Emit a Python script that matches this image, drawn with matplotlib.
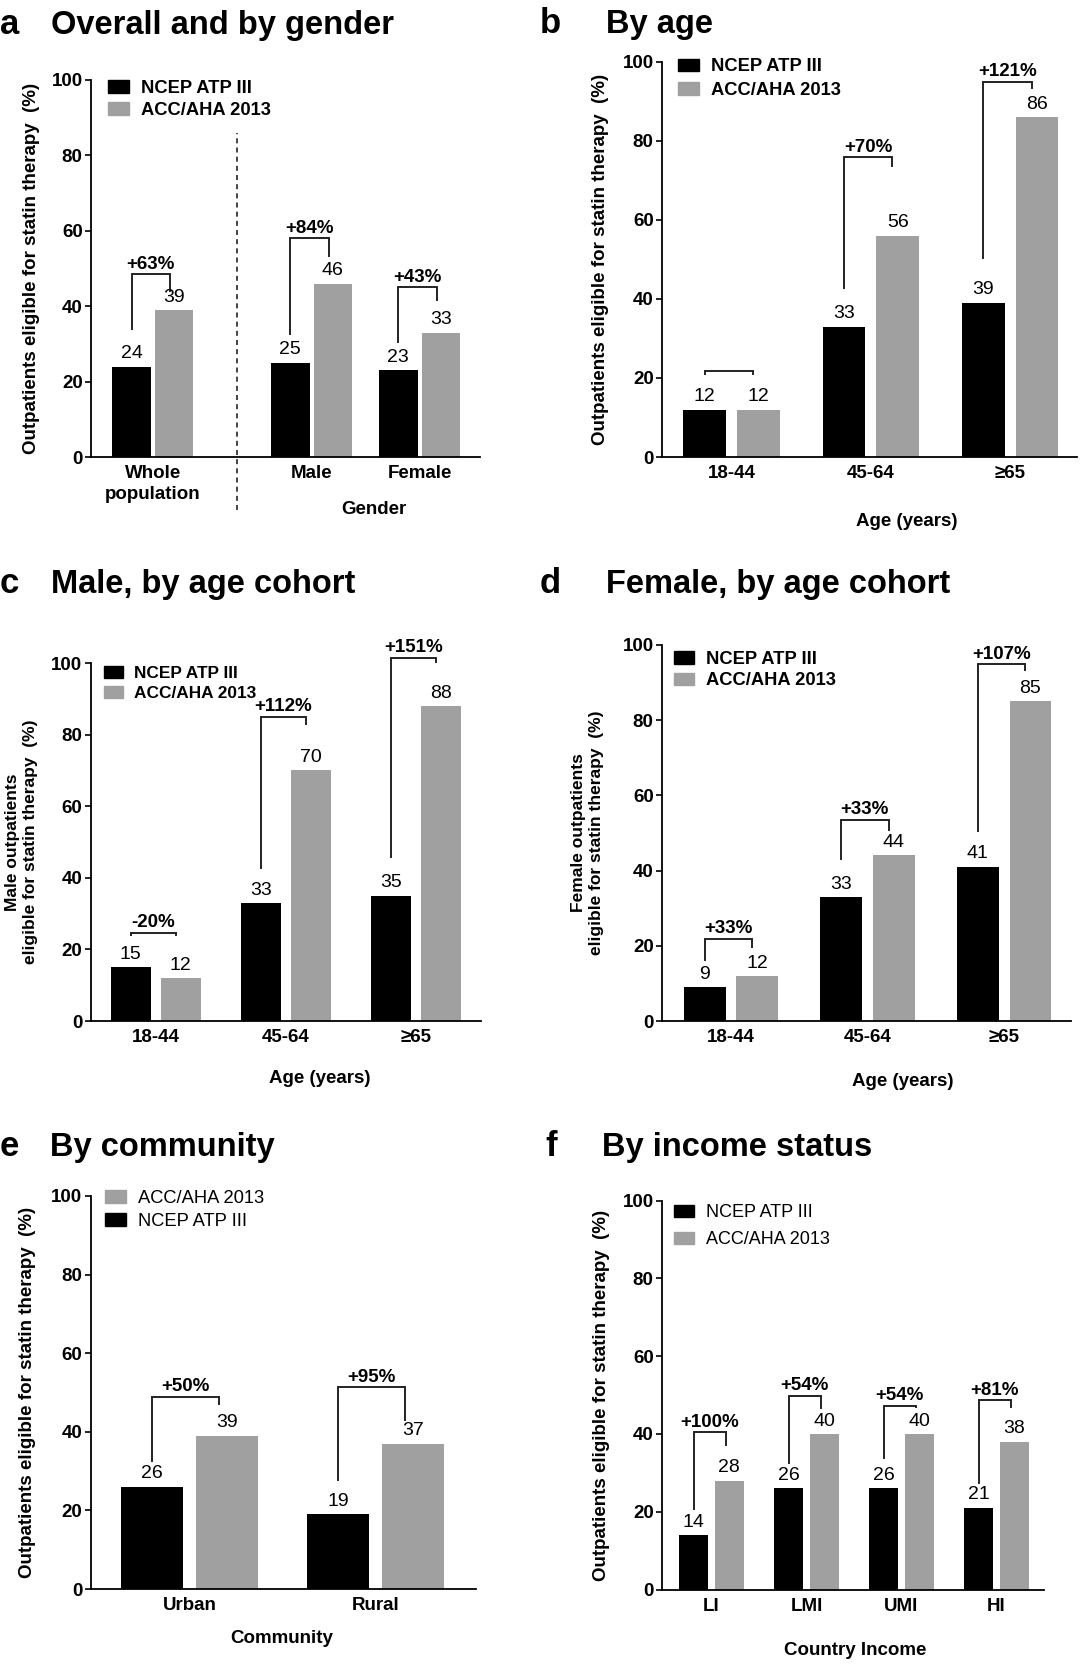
import matplotlib
matplotlib.use("Agg")
import matplotlib.pyplot as plt
from matplotlib.patches import Patch
import numpy as np

plt.rcParams["font.family"] = ["Liberation Sans", "DejaVu Sans"]

BLACK = "#000000"
GRAY = "#a0a0a0"
NCEP = "NCEP ATP III"
ACC = "ACC/AHA 2013"
YLAB = "Outpatients eligible for statin therapy  (%)"

# ---------------------------------------------------------------------------
# Data
# ---------------------------------------------------------------------------
a_groups = ["Whole\npopulation", "Male", "Female"]
a_ncep = [24, 25, 23]
a_acc = [39, 46, 33]
a_change = ["+63%", "+84%", "+43%"]

b_groups = ["18-44", "45-64", "\u226565"]
b_ncep = [12, 33, 39]
b_acc = [12, 56, 86]
b_change = ["", "+70%", "+121%"]

c_groups = ["18-44", "45-64", "\u226565"]
c_ncep = [15, 33, 35]
c_acc = [12, 70, 88]
c_change = ["-20%", "+112%", "+151%"]

d_groups = ["18-44", "45-64", "\u226565"]
d_ncep = [9, 33, 41]
d_acc = [12, 44, 85]
d_change = ["+33%", "+33%", "+107%"]

e_groups = ["Urban", "Rural"]
e_ncep = [26, 19]
e_acc = [39, 37]
e_change = ["+50%", "+95%"]

f_groups = ["LI", "LMI", "UMI", "HI"]
f_ncep = [14, 26, 26, 21]
f_acc = [28, 40, 40, 38]
f_change = ["+100%", "+54%", "+54%", "+81%"]

# bracket layout: (left leg bottom, bar top, right leg bottom) in y units
a_brk = [(34, 48.5, 44), (32.5, 58, 53.3), (30.5, 45, 41.6)]
b_brk = [(21, 21.8, 21), (42.7, 75.8, 73.6), (50.4, 94.9, 93.4)]
c_brk = [(24, 24.7, 24), (42.7, 85, 83), (45.8, 101.5, 100.3)]
d_brk = [(16.2, 21.8, 19.6), (43, 53.5, 50.8), (50.4, 94.8, 93.3)]
e_brk = [(32.6, 48.9, 47), (27.7, 51.3, 43)]
f_brk = [(20.7, 40.4, 37.2), (32.6, 49.8, 46.7), (33.8, 47.2, 46.9), (27.5, 48.7, 46.9)]

# ---------------------------------------------------------------------------
W, H = 1080, 1664
fig = plt.figure(figsize=(W / 100, H / 100), dpi=100)


def px_axes(x0, x1, y0, y100):
    return fig.add_axes([x0 / W, 1 - y0 / H, (x1 - x0) / W, (y0 - y100) / H])


def panel(ax, xs, groups, ncep, acc, change, brk, width, gap, xlim,
          leg_xy, leg_order, leg_bold, leg_size, leg_space):
    xs = np.asarray(xs, dtype=float)
    off = (width + gap) / 2
    ax.bar(xs - off, ncep, width, color=BLACK)
    ax.bar(xs + off, acc, width, color=GRAY)
    for x, v in list(zip(xs - off, ncep)) + list(zip(xs + off, acc)):
        ax.annotate(f"{v}", (x, v), xytext=(0, 6), textcoords="offset points",
                    ha="center", va="baseline", fontsize=14)
    for x, lab, (lb, top, rb) in zip(xs, change, brk):
        xl = x - off
        xr = x + off * 0.8
        ax.plot([xl, xl, xr, xr], [lb, top, top, rb], color="#222222",
                lw=1.4, clip_on=False, solid_joinstyle="miter")
        if lab:
            ax.annotate(lab, ((xl + xr) / 2, top), xytext=(0, 4),
                        textcoords="offset points", ha="center",
                        va="baseline", fontsize=13.5, fontweight="bold",
                        annotation_clip=False)
    ax.set_xlim(*xlim)
    ax.set_ylim(0, 100)
    ax.set_yticks(range(0, 101, 20))
    ax.set_xticks(xs)
    ax.set_xticklabels(groups, fontsize=13.5, fontweight="bold", linespacing=1.3)
    for t in ax.get_yticklabels():
        t.set_fontsize(13.5)
        t.set_fontweight("bold")
    ax.tick_params(axis="x", length=0, pad=6)
    ax.tick_params(axis="y", length=4, width=1.2, pad=2)
    for s in ("top", "right"):
        ax.spines[s].set_visible(False)
    for s in ("left", "bottom"):
        ax.spines[s].set_linewidth(1.3)

    handles = {NCEP: Patch(color=BLACK), ACC: Patch(color=GRAY)}
    ax.legend([handles[k] for k in leg_order], leg_order, loc="upper left",
              bbox_to_anchor=leg_xy, frameon=False, borderpad=0,
              borderaxespad=0, handlelength=1.12, handleheight=0.7,
              handletextpad=0.65, labelspacing=leg_space,
              prop={"size": leg_size, "weight": "bold" if leg_bold else "normal"})


def title(x_letter, x_title, y_base, letter, text):
    fig.text(x_letter / W, 1 - y_base / H, letter, fontsize=25,
             fontweight="bold", va="baseline")
    fig.text(x_title / W, 1 - y_base / H, text, fontsize=23.5,
             fontweight="bold", va="baseline")


def ylab(ax, x, text, size=13.5):
    ax.text(x, 0.5, text, transform=ax.transAxes, rotation=90, ha="center",
            va="center", fontsize=size, fontweight="bold", linespacing=1.25)


def xlab(ax, x, y, text):
    ax.text(x, y, text, transform=ax.transAxes, ha="center", va="center",
            fontsize=13.5, fontweight="bold")


# a ---------------------------------------------------------------------
ax = px_axes(91, 480, 457, 80)
panel(ax, [0, 1.47, 2.47], a_groups, a_ncep, a_acc, a_change, a_brk,
      0.357, 0.037, (-0.574, 3.03), (0.044, 1.0), [NCEP, ACC], True, 13.2, 0.25)
ax.plot([0.78, 0.78], [-14, 86], color="#222222", lw=1.2, ls=(0, (3, 2.5)),
        clip_on=False)
xlab(ax, 0.727, -0.138, "Gender")
ylab(ax, -0.154, YLAB)
title(0, 51, 34, "a", "Overall and by gender")

# b ---------------------------------------------------------------------
ax = px_axes(662, 1077, 457, 61.6)
panel(ax, [0, 1, 2], b_groups, b_ncep, b_acc, b_change, b_brk,
      0.306, 0.08, (-0.5, 2.48), (0.039, 1.008), [NCEP, ACC], True, 13.2, 0.35)
xlab(ax, 0.59, -0.162, "Age (years)")
ylab(ax, -0.149, YLAB)
title(540, 606, 33, "b", "By age")

# c ---------------------------------------------------------------------
ax = px_axes(90.7, 481, 1021, 663)
panel(ax, [0, 1, 2], c_groups, c_ncep, c_acc, c_change, c_brk,
      0.306, 0.08, (-0.5, 2.5), (0.034, 0.993), [NCEP, ACC], True, 12.4, 0.3)
xlab(ax, 0.587, -0.162, "Age (years)")
ylab(ax, -0.177, "Male outpatients\neligible for statin therapy  (%)", 12.5)
title(0, 51, 593, "c", "Male, by age cohort")

# d ---------------------------------------------------------------------
ax = px_axes(662, 1071, 1021, 644.8)
panel(ax, [0, 1, 2], d_groups, d_ncep, d_acc, d_change, d_brk,
      0.306, 0.08, (-0.505, 2.49), (0.029, 0.984), [NCEP, ACC], True, 13.2, 0.25)
xlab(ax, 0.589, -0.16, "Age (years)")
ylab(ax, -0.182, "Female outpatients\neligible for statin therapy  (%)", 12.5)
title(540, 606, 593, "d", "Female, by age cohort")

# e ---------------------------------------------------------------------
ax = px_axes(90.7, 476, 1589, 1196)
panel(ax, [0, 1], e_groups, e_ncep, e_acc, e_change, e_brk,
      0.333, 0.07, (-0.53, 1.54), (0.038, 1.015), [ACC, NCEP], False, 13.2, 0.3)
xlab(ax, 0.496, -0.127, "Community")
ylab(ax, -0.165, YLAB)
title(0, 50, 1156, "e", "By community")

# f ---------------------------------------------------------------------
ax = px_axes(662, 1044, 1589.5, 1200.6)
panel(ax, [0, 1, 2, 3], f_groups, f_ncep, f_acc, f_change, f_brk,
      0.302, 0.074, (-0.52, 3.5), (0.031, 0.99), [NCEP, ACC], False, 13, 0.55)
xlab(ax, 0.505, -0.158, "Country Income")
ylab(ax, -0.158, YLAB)
title(545, 602, 1156, "f", "By income status")

fig.savefig("out.png", dpi=100, facecolor="white")
